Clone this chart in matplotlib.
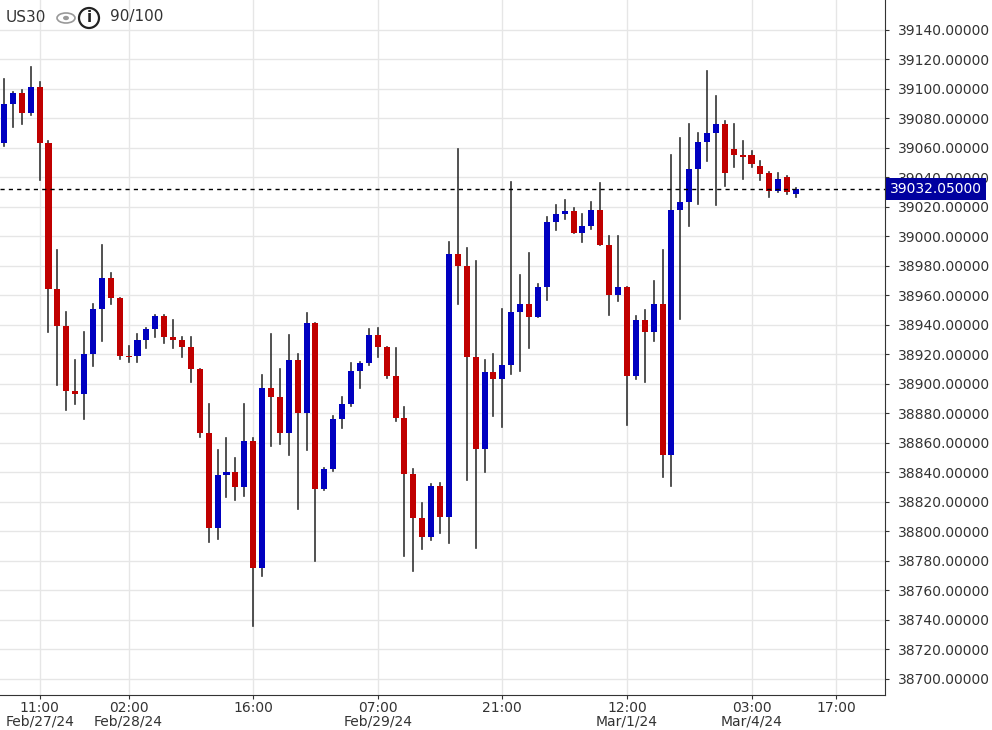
import matplotlib
matplotlib.use('Agg')
import matplotlib.pyplot as plt
from matplotlib.patches import Rectangle, Circle, Ellipse
import numpy as np

# hourly candles, US30
opens = [39063, 39090, 39097, 39084, 39101, 39063, 38964, 38939, 38895, 38893,
         38920, 38951, 38972, 38958, 38919, 38919, 38930, 38937, 38946, 38932,
         38930, 38925, 38910, 38867, 38802, 38838, 38840, 38830, 38861, 38775,
         38897, 38891, 38867, 38916, 38880, 38941, 38829, 38842, 38876, 38886,
         38909, 38914, 38933, 38925, 38905, 38877, 38839, 38809, 38796, 38831,
         38810, 38988, 38980, 38918, 38856, 38908, 38903, 38913, 38949, 38954,
         38945, 38966, 39010, 39015, 39017, 39002, 39007, 39018, 38994, 38960,
         38966, 38905, 38943, 38935, 38954, 38852, 39018, 39023, 39046, 39064,
         39070, 39076, 39059, 39055, 39055, 39048, 39043, 39031, 39040, 39029]
closes = [39090, 39097, 39084, 39101, 39063, 38964, 38939, 38895, 38893, 38920,
          38951, 38972, 38958, 38919, 38918, 38930, 38937, 38946, 38932, 38930,
          38925, 38910, 38867, 38802, 38838, 38840, 38830, 38861, 38775, 38897,
          38891, 38867, 38916, 38880, 38941, 38829, 38842, 38876, 38886, 38909,
          38914, 38933, 38925, 38905, 38877, 38839, 38809, 38796, 38831, 38810,
          38988, 38980, 38918, 38856, 38908, 38903, 38913, 38949, 38954, 38945,
          38966, 39010, 39015, 39017, 39002, 39007, 39018, 38994, 38960, 38966,
          38905, 38943, 38935, 38954, 38852, 39018, 39023, 39046, 39064, 39070,
          39076, 39043, 39055, 39054, 39049, 39042, 39031, 39039, 39030, 39032]
highs = [39107, 39098, 39099, 39115, 39105, 39065, 38991, 38949, 38916, 38935,
         38954, 38994, 38975, 38958, 38926, 38934, 38938, 38947, 38947, 38943,
         38932, 38932, 38910, 38886, 38855, 38863, 38850, 38886, 38863, 38906,
         38934, 38910, 38933, 38920, 38948, 38941, 38843, 38878, 38891, 38914,
         38915, 38937, 38938, 38925, 38924, 38884, 38842, 38819, 38832, 38833,
         38996, 39059, 38992, 38983, 38916, 38920, 38951, 39037, 38974, 38989,
         38968, 39013, 39021, 39025, 39019, 39015, 39023, 39036, 39000, 39000,
         38966, 38946, 38950, 38970, 38991, 39055, 39067, 39076, 39070, 39112,
         39095, 39078, 39076, 39065, 39058, 39051, 39044, 39043, 39041, 39033]
lows = [39061, 39074, 39076, 39082, 39038, 38935, 38899, 38882, 38886, 38876,
        38912, 38929, 38954, 38917, 38915, 38915, 38924, 38932, 38928, 38924,
        38918, 38901, 38864, 38793, 38795, 38823, 38821, 38824, 38736, 38770,
        38858, 38859, 38852, 38815, 38855, 38780, 38828, 38841, 38870, 38885,
        38897, 38913, 38918, 38904, 38875, 38783, 38773, 38788, 38794, 38799,
        38792, 38954, 38835, 38789, 38840, 38878, 38871, 38907, 38909, 38924,
        38945, 38957, 39004, 39012, 39002, 38996, 39005, 38994, 38947, 38956,
        38872, 38903, 38901, 38929, 38837, 38831, 38944, 39007, 39022, 39051,
        39021, 39034, 39047, 39039, 39047, 39038, 39027, 39030, 39029, 39027]

tick_pos = [4, 14, 28, 42, 56, 70, 84, 93.5]
tick_labels = ['11:00\nFeb/27/24', '02:00\nFeb/28/24', '16:00', '07:00\nFeb/29/24',
               '21:00', '12:00\nMar/1/24', '03:00\nMar/4/24', '17:00']
last_price = 39032.05

up_col = '#0000c0'
down_col = '#c00000'

fig = plt.figure(figsize=(9.92, 7.3), dpi=100)
ax = fig.add_axes([0, 35 / 730, 885 / 992, 695 / 730])

for i, (o, c, h, l) in enumerate(zip(opens, closes, highs, lows)):
    col = up_col if c >= o else down_col
    ax.plot([i, i], [l, h], color='#333333', lw=1.2, zorder=2)
    bottom = min(o, c)
    height = max(abs(c - o), 1.2)
    ax.add_patch(Rectangle((i - 0.34, bottom), 0.68, height, facecolor=col,
                           edgecolor='none', zorder=3))

ax.axhline(last_price, color='black', ls=(0, (3, 3)), lw=1, zorder=4)

ax.set_xlim(-0.45, 99)
ax.set_ylim(38689, 39160.3)
ax.set_yticks(np.arange(38700, 39160, 20))
ax.yaxis.set_major_formatter(matplotlib.ticker.FormatStrFormatter('%.5f'))
ax.yaxis.tick_right()
ax.set_xticks(tick_pos)
ax.set_xticklabels(tick_labels, linespacing=1.0)
ax.tick_params(axis='both', labelsize=10, colors='#333333', length=3)
ax.tick_params(axis='x', pad=1)
ax.tick_params(axis='y', pad=6)
ax.grid(True, color='#e6e6e6', lw=1, zorder=0)
for s in ['top', 'left']:
    ax.spines[s].set_visible(False)
for s in ['right', 'bottom']:
    ax.spines[s].set_color('#333333')

ax.text(1.006, last_price, '39032.05000', transform=ax.get_yaxis_transform(),
        ha='left', va='center', fontsize=10, color='white', zorder=10, clip_on=False,
        bbox=dict(boxstyle='square,pad=0.3', facecolor='#0000a0', edgecolor='none'))

# header
fig.text(6 / 992, 1 - 17 / 730, 'US30', fontsize=11, color='#333333', va='center')
fig.patches.append(Ellipse((66 / 992, 1 - 18 / 730), 18 / 992, 10 / 730,
                           transform=fig.transFigure, facecolor='none',
                           edgecolor='#999999', lw=1.2))
fig.patches.append(Circle((66 / 992, 1 - 18 / 730), 0.003, transform=fig.transFigure,
                          facecolor='#999999'))
fig.patches.append(Ellipse((89 / 992, 1 - 18 / 730), 20 / 992, 20 / 730,
                           transform=fig.transFigure, facecolor='none',
                           edgecolor='#222222', lw=1.6))
fig.text(89 / 992, 1 - 18 / 730, 'i', fontsize=11, fontweight='bold', ha='center',
         va='center', color='#222222')
fig.text(110 / 992, 1 - 17 / 730, '90/100', fontsize=11, color='#333333', va='center')

fig.savefig('out.png', dpi=100)
